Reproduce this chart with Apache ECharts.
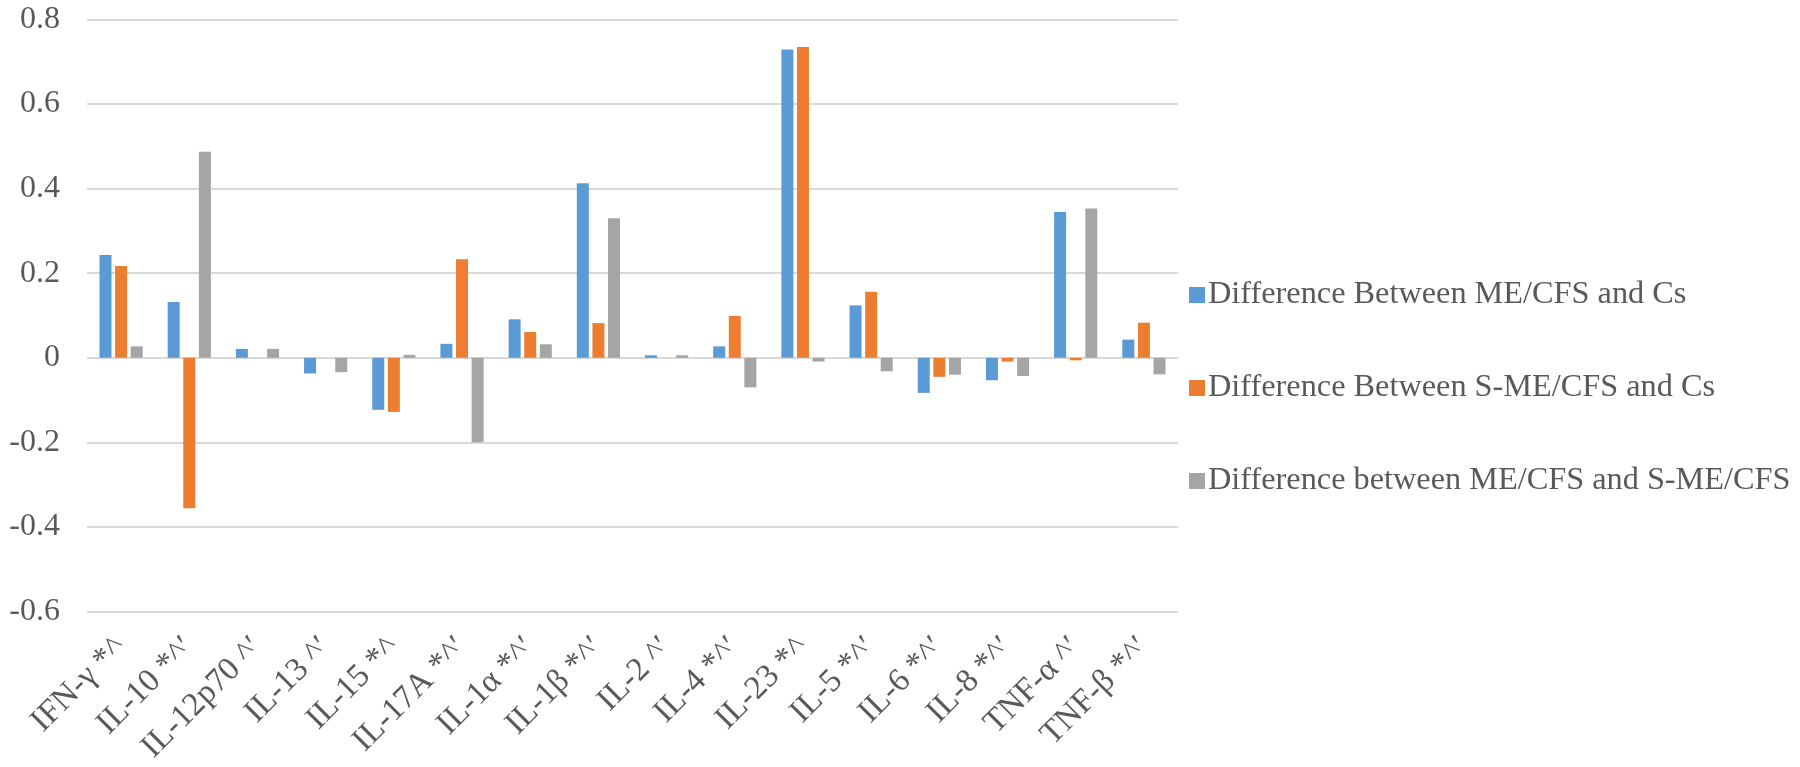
<!DOCTYPE html>
<html>
<head>
<meta charset="utf-8">
<script src="https://cdn.jsdelivr.net/npm/echarts@6/dist/echarts.min.js"></script>
<style>
html,body{margin:0;padding:0;background:#fff;}
#chart{width:1800px;height:767px;}
</style>
</head>
<body>
<div id="chart"></div>
<script>
const categories = ["IFN-γ *^", "IL-10 *^′", "IL-12p70 ^′", "IL-13 ^′", "IL-15 *^", "IL-17A *^′", "IL-1α *^′", "IL-1β *^′", "IL-2 ^′", "IL-4 *^′", "IL-23 *^", "IL-5 *^′", "IL-6 *^′", "IL-8 *^′", "TNF-α ^′", "TNF-β *^′"];
const seriesNames = ["Difference Between ME/CFS and Cs", "Difference Between S-ME/CFS and Cs", "Difference between ME/CFS and S-ME/CFS"];
const meVsCs = [0.243, 0.132, 0.021, -0.037, -0.123, 0.033, 0.091, 0.413, 0.006, 0.027, 0.729, 0.124, -0.083, -0.053, 0.345, 0.043];
const smeVsCs = [0.217, -0.356, 0, 0, -0.128, 0.233, 0.061, 0.082, 0, 0.099, 0.735, 0.156, -0.045, -0.009, -0.006, 0.083];
const meVsSme = [0.027, 0.487, 0.021, -0.034, 0.007, -0.2, 0.032, 0.33, 0.006, -0.07, -0.009, -0.032, -0.04, -0.043, 0.353, -0.039];
const yMin = -0.6, yMax = 0.8, yStep = 0.2;

const serif = '"Liberation Serif", "Times New Roman", serif';
const colors = ['#5B9BD5', '#ED7D31', '#A5A5A5'];
const chart = echarts.init(document.getElementById('chart'), null, {renderer: 'canvas'});
const dataSets = [meVsCs, smeVsCs, meVsSme];
chart.setOption({
  animation: false,
  backgroundColor: '#ffffff',
  grid: {left: 87, right: 622, top: 19.5, bottom: 155.5, containLabel: false},
  legend: {
    orient: 'vertical',
    left: 1184,
    top: 274,
    itemWidth: 16,
    itemHeight: 16,
    itemGap: 61,
    icon: 'rect',
    textStyle: {fontFamily: serif, fontSize: 32.3, color: '#595959', lineHeight: 32, padding: [0, 0, 0, -2]},
    data: seriesNames
  },
  xAxis: {
    type: 'category',
    data: categories,
    axisLine: {show: false, onZero: false},
    axisTick: {show: false},
    splitLine: {show: false},
    axisLabel: {rotate: 45, margin: 31, fontFamily: serif, fontSize: 33, color: '#595959', interval: 0}
  },
  yAxis: {
    type: 'value',
    min: yMin, max: yMax, interval: yStep,
    axisLine: {show: false},
    axisTick: {show: false},
    splitLine: {lineStyle: {color: '#D9D9D9', width: 2}},
    axisLabel: {margin: 27, fontFamily: serif, fontSize: 32, color: '#595959',
      formatter: v => String(Math.round(v * 10) / 10)}
  },
  series: seriesNames.map((n, i) => ({
    name: n,
    type: 'bar',
    data: dataSets[i],
    barWidth: 12,
    barGap: '30%',
    itemStyle: {color: colors[i]}
  }))
});
</script>
</body>
</html>
